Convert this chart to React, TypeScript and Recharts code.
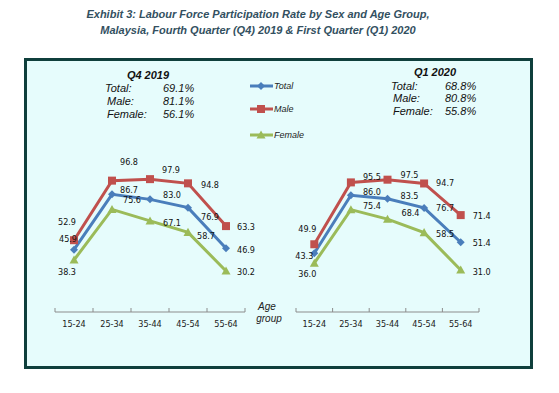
import React from "react";
import { LineChart, Line, XAxis, YAxis, LabelList } from "recharts";

const AGE_GROUPS = ["15-24", "25-34", "35-44", "45-54", "55-64"];

const TOTAL_Q4 = [45.9, 86.7, 83.0, 76.9, 46.9];
const MALE_Q4 = [52.9, 96.8, 97.9, 94.8, 63.3];
const FEMALE_Q4 = [38.3, 75.6, 67.1, 58.7, 30.2];

const TOTAL_Q1 = [43.3, 86.0, 83.5, 76.7, 51.4];
const MALE_Q1 = [49.9, 95.5, 97.5, 94.7, 71.4];
const FEMALE_Q1 = [36.0, 75.4, 68.4, 58.5, 31.0];

const SUMMARY_LABELS = ["Total:", "Male:", "Female:"];
const SUMMARY_Q4 = [69.1, 81.1, 56.1];
const SUMMARY_Q1 = [68.8, 80.8, 55.8];

const SERIES = ["Total", "Male", "Female"];

// label offsets from the point, per point
const OFFS_Q4 = {
  total: [[-6, -11], [17, -4], [22, -4], [22, 9], [20, 2]],
  male: [[-7, -18], [17, -19], [21, -9], [22, 2], [20, 1]],
  female: [[-7, 12], [20, -9], [22, 2], [18, 4], [20, 1]],
};
const OFFS_Q1 = {
  total: [[-10, 3], [21, -3], [22, -3], [21, 0], [21, 1]],
  male: [[-7, -15], [21, -5], [22, -5], [21, 0], [21, 1]],
  female: [[-7, 11], [21, -4], [23, -6], [21, 1], [21, 2]],
};

const W = 559;
const H = 393;
const AXIS_Y = 312;
const PLOT_TOP = 122;
const AXIS_H = 30;

const BLUE = "#4a7ebb";
const RED = "#c0504d";
const GREEN = "#9bbb59";
const LABEL_FONT = "Verdana, 'DejaVu Sans Condensed', 'DejaVu Sans', sans-serif";
const ARIAL = "Arial, 'Liberation Sans', sans-serif";

function Diamond({ cx, cy, color, r = 4 }: any) {
  return (
    <polygon
      points={`${cx},${cy - r} ${cx + r},${cy} ${cx},${cy + r} ${cx - r},${cy}`}
      fill={color}
    />
  );
}
function Square({ cx, cy, color, r = 4 }: any) {
  return <rect x={cx - r} y={cy - r} width={r * 2} height={r * 2} fill={color} />;
}
function Triangle({ cx, cy, color, r = 4.5 }: any) {
  return (
    <polygon
      points={`${cx},${cy - r} ${cx + r},${cy + r * 0.8} ${cx - r},${cy + r * 0.8}`}
      fill={color}
    />
  );
}

const dotOf = (Shape: any, color: string) => (p: any) =>
  <Shape key={`dot-${p.index}`} cx={p.cx} cy={p.cy} color={color} />;

const labelOf = (offs: number[][]) => (p: any) => {
  const o = offs[p.index] || [0, 0];
  return (
    <text
      key={`lbl-${p.index}`}
      x={p.x + o[0]}
      y={p.y + o[1]}
      textAnchor="middle"
      dominantBaseline="central"
      fontSize={9}
      fontFamily={LABEL_FONT}
      fill="#111"
    >
      {Number(p.value).toFixed(1)}
    </text>
  );
};

function AgeTick({ x, payload, band }: any) {
  const last = payload.value === AGE_GROUPS[AGE_GROUPS.length - 1];
  return (
    <g>
      <line x1={x - band / 2} x2={x - band / 2} y1={AXIS_Y - 4} y2={AXIS_Y} stroke="#8c8c8c" />
      {last && (
        <line x1={x + band / 2} x2={x + band / 2} y1={AXIS_Y - 4} y2={AXIS_Y} stroke="#8c8c8c" />
      )}
      <text
        x={x}
        y={AXIS_Y + 15}
        textAnchor="middle"
        fontSize={9}
        fontFamily={LABEL_FONT}
        fill="#222"
      >
        {payload.value}
      </text>
    </g>
  );
}

function Panel({ left, width, mLeft, mRight, total, male, female, offs }: any) {
  const data = AGE_GROUPS.map((age, i) => ({
    age,
    total: total[i],
    male: male[i],
    female: female[i],
  }));
  const band = (width - mLeft - mRight) / AGE_GROUPS.length;
  return (
    <div style={{ position: "absolute", left, top: 0 }}>
      <LineChart
        width={width}
        height={H}
        data={data}
        margin={{ top: PLOT_TOP, bottom: H - AXIS_Y - AXIS_H, left: mLeft, right: mRight }}
      >
        <XAxis
          dataKey="age"
          height={AXIS_H}
          interval={0}
          padding={{ left: band / 2, right: band / 2 }}
          axisLine={{ stroke: "#8c8c8c" }}
          tickLine={false}
          tick={<AgeTick band={band} />}
        />
        <YAxis hide domain={[0, 140]} />
        <Line
          dataKey="total"
          stroke={BLUE}
          strokeWidth={3}
          dot={dotOf(Diamond, BLUE)}
          isAnimationActive={false}
        >
          <LabelList dataKey="total" content={labelOf(offs.total)} />
        </Line>
        <Line
          dataKey="male"
          stroke={RED}
          strokeWidth={3}
          dot={dotOf(Square, RED)}
          isAnimationActive={false}
        >
          <LabelList dataKey="male" content={labelOf(offs.male)} />
        </Line>
        <Line
          dataKey="female"
          stroke={GREEN}
          strokeWidth={3}
          dot={dotOf(Triangle, GREEN)}
          isAnimationActive={false}
        >
          <LabelList dataKey="female" content={labelOf(offs.female)} />
        </Line>
      </LineChart>
    </div>
  );
}

function Summary({ title, cx, ty, lx, vx, rows, values }: any) {
  return (
    <g fontFamily={ARIAL} fill="#111" fontStyle="italic">
      <text x={cx} y={ty} textAnchor="middle" fontSize={11} fontWeight="bold" dominantBaseline="central">
        {title}
      </text>
      {values.map((v: number, i: number) => (
        <g key={i}>
          <text x={lx[i]} y={rows[i]} fontSize={11} dominantBaseline="central">
            {SUMMARY_LABELS[i]}
          </text>
          <text x={vx} y={rows[i]} fontSize={11} dominantBaseline="central">
            {v.toFixed(1)}%
          </text>
        </g>
      ))}
    </g>
  );
}

export default function App() {
  const legendY = [86, 109, 135];
  const legendColors = [BLUE, RED, GREEN];
  const legendShapes = [Diamond, Square, Triangle];
  return (
    <div style={{ position: "absolute", left: 0, top: 0, width: W, height: H, background: "#fff" }}>
      <div
        style={{
          position: "absolute",
          left: 0,
          top: 6,
          width: 516,
          textAlign: "center",
          fontFamily: ARIAL,
          fontSize: 11,
          fontWeight: "bold",
          fontStyle: "italic",
          color: "#33505f",
          lineHeight: "16px",
        }}
      >
        Exhibit 3: Labour Force Participation Rate by Sex and Age Group,
        <br />
        Malaysia, Fourth Quarter (Q4) 2019 &amp; First Quarter (Q1) 2020
      </div>
      <div
        style={{
          position: "absolute",
          left: 24,
          top: 58,
          width: 503,
          height: 305,
          border: "3px solid #0f3f3c",
          background: "#e6fcfc",
        }}
      />
      <Panel
        left={0}
        width={280}
        mLeft={55}
        mRight={35}
        total={TOTAL_Q4}
        male={MALE_Q4}
        female={FEMALE_Q4}
        offs={OFFS_Q4}
      />
      <Panel
        left={280}
        width={279}
        mLeft={16}
        mRight={80}
        total={TOTAL_Q1}
        male={MALE_Q1}
        female={FEMALE_Q1}
        offs={OFFS_Q1}
      />
      <svg
        width={W}
        height={H}
        style={{ position: "absolute", left: 0, top: 0, pointerEvents: "none" }}
      >
        <Summary
          title="Q4 2019"
          cx={148}
          ty={75}
          lx={[105, 107, 107]}
          vx={163}
          rows={[88, 101, 114]}
          values={SUMMARY_Q4}
        />
        <Summary
          title="Q1 2020"
          cx={435}
          ty={72}
          lx={[391, 393, 393]}
          vx={445}
          rows={[86, 98, 111]}
          values={SUMMARY_Q1}
        />
        {SERIES.map((name, i) => {
          const Shape = legendShapes[i];
          return (
            <g key={name}>
              <line x1={250} x2={273} y1={legendY[i]} y2={legendY[i]} stroke={legendColors[i]} strokeWidth={3} />
              <Shape cx={261} cy={legendY[i]} color={legendColors[i]} />
              <text
                x={274}
                y={legendY[i]}
                fontFamily={ARIAL}
                fontSize={9}
                fontStyle="italic"
                fill="#222"
                dominantBaseline="central"
              >
                {name}
              </text>
            </g>
          );
        })}
        <g fontFamily={ARIAL} fontSize={10} fontStyle="italic" fill="#222" textAnchor="middle">
          <text x={267} y={306} dominantBaseline="central">Age</text>
          <text x={269} y={318} dominantBaseline="central">group</text>
        </g>
      </svg>
    </div>
  );
}
